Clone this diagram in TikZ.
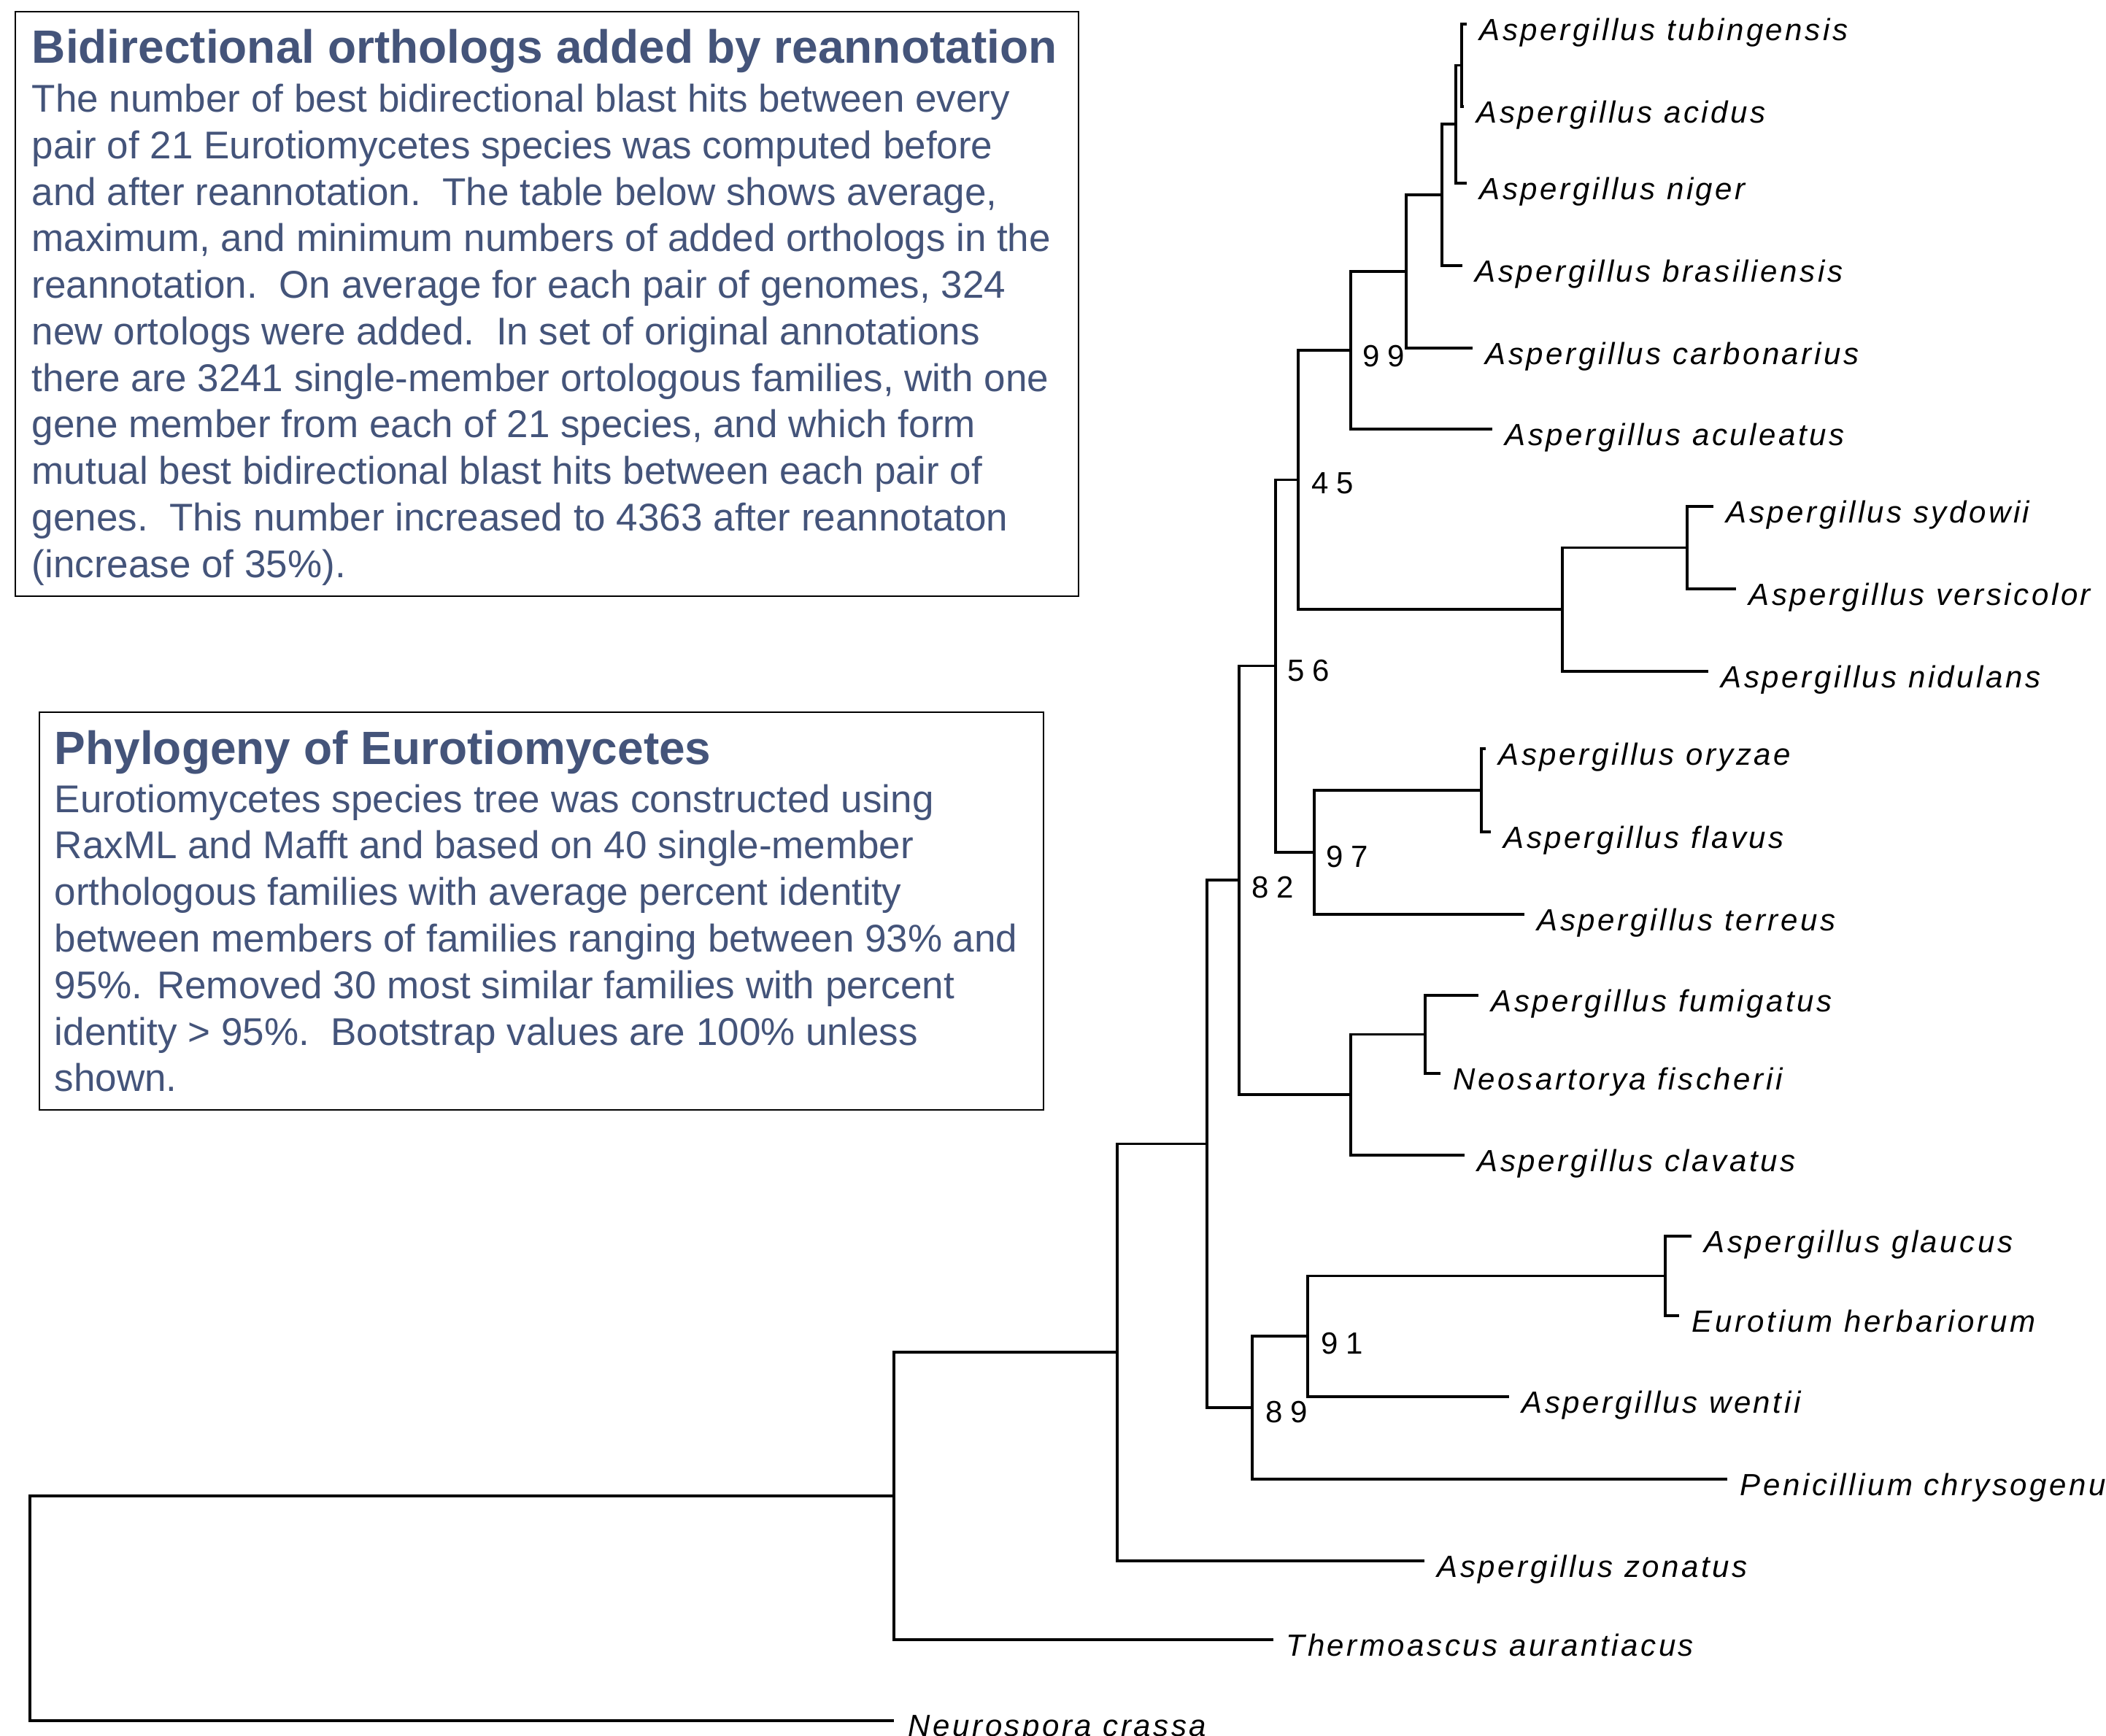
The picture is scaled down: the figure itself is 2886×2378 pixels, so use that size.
\documentclass[tikz,border=0pt]{standalone}
\usepackage{fontspec}
\setmainfont{Liberation Sans}
\newfontfamily\spfont[LetterSpace=8.5]{Liberation Sans}
\newfontfamily\bsfont[LetterSpace=24]{Liberation Sans}
\definecolor{txtblue}{RGB}{68,84,122}
\begin{document}
\begin{tikzpicture}[x=0.25pt,y=-0.25pt,
  branch/.style={line width=0.8pt,black},
  frame/.style={draw=black,line width=0.5pt},
  species/.style={anchor=base west,inner sep=0pt,font=\spfont\itshape\fontsize{10.5pt}{12.5pt}\selectfont},
  boot/.style={anchor=west,inner sep=0pt,font=\bsfont\fontsize{10.5pt}{12.5pt}\selectfont},
  boxtitle/.style={anchor=base west,inner sep=0pt,text=txtblue,font=\bfseries\fontsize{16pt}{19pt}\selectfont},
  boxtext/.style={anchor=base west,inner sep=0pt,text=txtblue,font=\fontsize{13.25pt}{16pt}\selectfont}]
\useasboundingbox (0,0) rectangle (2886,2378);

% ---------- box 1 ----------
\draw[frame] (21,16) rectangle (1478,817);
\node[boxtitle] (t1) at (43,86) {Bidirectional orthologs added by reannotation};
\node[boxtext] (a1) at (43,153.5) {The number of best bidirectional blast hits between every};
\node[boxtext] (a2) at (43,217.3) {pair of 21 Eurotiomycetes species was computed before};
\node[boxtext] (a3) at (43,281) {and after reannotation.\ \ The table below shows average,};
\node[boxtext] (a4) at (43,344.8) {maximum, and minimum numbers of added orthologs in the};
\node[boxtext] (a5) at (43,408.5) {reannotation.\ \ On average for each pair of genomes, 324};
\node[boxtext] (a6) at (43,472.3) {new ortologs were added.\ \ In set of original annotations};
\node[boxtext] (a7) at (43,536) {there are 3241 single-member ortologous families, with one};
\node[boxtext] (a8) at (43,599.8) {gene member from each of 21 species, and which form};
\node[boxtext] (a9) at (43,663.5) {mutual best bidirectional blast hits between each pair of};
\node[boxtext] (a10) at (43,727.3) {genes.\ \ This number increased to 4363 after reannotaton};
\node[boxtext] (a11) at (43,791) {(increase of 35\%).};

% ---------- box 2 ----------
\draw[frame] (54,976) rectangle (1430,1521);
\node[boxtitle] (t2) at (74,1047) {Phylogeny of Eurotiomycetes};
\node[boxtext] (p1) at (74,1113) {Eurotiomycetes species tree was constructed using};
\node[boxtext] (p2) at (74,1176.8) {RaxML and Mafft and based on 40 single-member};
\node[boxtext] (p3) at (74,1240.6) {orthologous families with average percent identity};
\node[boxtext] (p4) at (74,1304.4) {between members of families ranging between 93\% and};
\node[boxtext] (p5) at (74,1368.2) {95\%. Removed 30 most similar families with percent};
\node[boxtext] (p6) at (74,1432) {identity > 95\%.\ \ Bootstrap values are 100\% unless};
\node[boxtext] (p7) at (74,1495.8) {shown.};

% ---------- tree: internal nodes ----------
\coordinate (W) at (41,2204);
\coordinate (V) at (1225,2050);
\coordinate (U) at (1531,1853);
\coordinate (T) at (1654,1567.5);
\coordinate (L) at (1698,1206);
\coordinate (I) at (1748,912.8);
\coordinate (F) at (1779,657.5);
\coordinate (E) at (1851,480);
\coordinate (D) at (1927,372);
\coordinate (C) at (1976,267);
\coordinate (B) at (1995,170);
\coordinate (A) at (2003,89.5);
\coordinate (G) at (2141,835);
\coordinate (H) at (2312,750.5);
\coordinate (J) at (1801,1168);
\coordinate (K) at (2030,1083);
\coordinate (M) at (1851,1500);
\coordinate (N) at (1953,1417.5);
\coordinate (P) at (1716,1929);
\coordinate (Q) at (1792,1831);
\coordinate (R) at (2282,1748.5);

% ---------- tree: tips ----------
\coordinate (tTub) at (2010,33);
\coordinate (tAci) at (2006,146);
\coordinate (tNig) at (2010,251);
\coordinate (tBra) at (2004,364);
\coordinate (tCar) at (2018,477);
\coordinate (tAcu) at (2045,588);
\coordinate (tSyd) at (2348,694);
\coordinate (tVer) at (2379,807);
\coordinate (tNid) at (2341,920);
\coordinate (tOry) at (2036,1026);
\coordinate (tFla) at (2043,1140);
\coordinate (tTer) at (2089,1253);
\coordinate (tFum) at (2026,1364);
\coordinate (tFis) at (1974,1471);
\coordinate (tCla) at (2007,1583);
\coordinate (tGla) at (2318,1694);
\coordinate (tHer) at (2301,1803);
\coordinate (tWen) at (2068,1914);
\coordinate (tPen) at (2367,2027);
\coordinate (tZon) at (1952,2139);
\coordinate (tThe) at (1745,2247);
\coordinate (tNeu) at (1225,2358);

% ---------- branches ----------
\draw[branch] (W) |- (V);   \draw[branch] (W) |- (tNeu);
\draw[branch] (V) |- (U);   \draw[branch] (V) |- (tThe);
\draw[branch] (U) |- (T);   \draw[branch] (U) |- (tZon);
\draw[branch] (T) |- (L);   \draw[branch] (T) |- (P);
\draw[branch] (L) |- (I);   \draw[branch] (L) |- (M);
\draw[branch] (I) |- (F);   \draw[branch] (I) |- (J);
\draw[branch] (F) |- (E);   \draw[branch] (F) |- (G);
\draw[branch] (E) |- (D);   \draw[branch] (E) |- (tAcu);
\draw[branch] (D) |- (C);   \draw[branch] (D) |- (tCar);
\draw[branch] (C) |- (B);   \draw[branch] (C) |- (tBra);
\draw[branch] (B) |- (A);   \draw[branch] (B) |- (tNig);
\draw[branch] (A) |- (tTub); \draw[branch] (A) |- (tAci);
\draw[branch] (G) |- (H);   \draw[branch] (G) |- (tNid);
\draw[branch] (H) |- (tSyd); \draw[branch] (H) |- (tVer);
\draw[branch] (J) |- (K);   \draw[branch] (J) |- (tTer);
\draw[branch] (K) |- (tOry); \draw[branch] (K) |- (tFla);
\draw[branch] (M) |- (N);   \draw[branch] (M) |- (tCla);
\draw[branch] (N) |- (tFum); \draw[branch] (N) |- (tFis);
\draw[branch] (P) |- (Q);   \draw[branch] (P) |- (tPen);
\draw[branch] (Q) |- (R);   \draw[branch] (Q) |- (tWen);
\draw[branch] (R) |- (tGla); \draw[branch] (R) |- (tHer);

% ---------- species labels ----------
\path (tTub) ++(17,22) node[species] (lTub) {Aspergillus tubingensis};
\path (tAci) ++(17,22) node[species] (lAci) {Aspergillus acidus};
\path (tNig) ++(17,22) node[species] (lNig) {Aspergillus niger};
\path (tBra) ++(17,22) node[species] (lBra) {Aspergillus brasiliensis};
\path (tCar) ++(17,22) node[species] (lCar) {Aspergillus carbonarius};
\path (tAcu) ++(17,22) node[species] (lAcu) {Aspergillus aculeatus};
\path (tSyd) ++(17,22) node[species] (lSyd) {Aspergillus sydowii};
\path (tVer) ++(17,22) node[species] (lVer) {Aspergillus versicolor};
\path (tNid) ++(17,22) node[species] (lNid) {Aspergillus nidulans};
\path (tOry) ++(17,22) node[species] (lOry) {Aspergillus oryzae};
\path (tFla) ++(17,22) node[species] (lFla) {Aspergillus flavus};
\path (tTer) ++(17,22) node[species] (lTer) {Aspergillus terreus};
\path (tFum) ++(17,22) node[species] (lFum) {Aspergillus fumigatus};
\path (tFis) ++(17,22) node[species] (lFis) {Neosartorya fischerii};
\path (tCla) ++(17,22) node[species] (lCla) {Aspergillus clavatus};
\path (tGla) ++(17,22) node[species] (lGla) {Aspergillus glaucus};
\path (tHer) ++(17,22) node[species] (lHer) {Eurotium herbariorum};
\path (tWen) ++(17,22) node[species] (lWen) {Aspergillus wentii};
\path (tPen) ++(17,22) node[species] (lPen) {Penicillium chrysogenu};
\path (tZon) ++(17,22) node[species] (lZon) {Aspergillus zonatus};
\path (tThe) ++(17,22) node[species] (lThe) {Thermoascus aurantiacus};
\path (tNeu) ++(19,21) node[species] (lNeu) {Neurospora crassa};

% ---------- bootstrap values ----------
\path (E) ++(16,8) node[boot] (b99) {99};
\path (F) ++(18,5) node[boot] (b45) {45};
\path (I) ++(16,6) node[boot] (b56) {56};
\path (J) ++(16,6) node[boot] (b97) {97};
\path (L) ++(17,10) node[boot] (b82) {82};
\path (Q) ++(18,10) node[boot] (b91) {91};
\path (P) ++(18,6) node[boot] (b89) {89};
\end{tikzpicture}
\end{document}
